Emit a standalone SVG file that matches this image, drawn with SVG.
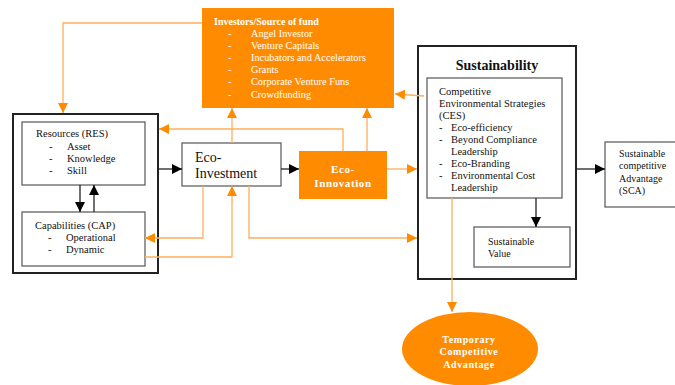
<svg xmlns="http://www.w3.org/2000/svg" width="675" height="385" viewBox="0 0 675 385">
<defs>
<marker id="ao" viewBox="0 0 10 10" refX="10" refY="5" markerWidth="10" markerHeight="10" markerUnits="userSpaceOnUse" orient="auto"><path d="M0,0 L10,5 L0,10 Z" fill="#FF8C00"/></marker>
<marker id="ab" viewBox="0 0 10 10" refX="10" refY="5" markerWidth="10" markerHeight="10" markerUnits="userSpaceOnUse" orient="auto"><path d="M0,0 L10,5 L0,10 Z" fill="#000"/></marker>
</defs>
<style>
text{font-family:"Liberation Serif","Times New Roman",serif;fill:#111}
.s{font-size:10px}
.m{font-size:10.5px}
.i{font-size:10.3px;fill:#fff}
.w{fill:#fff;font-weight:bold}
.box{fill:#fff;stroke:#555;stroke-width:1.2}
.thick{fill:#fff;stroke:#222;stroke-width:2}
.or{fill:#FF8C00}
.co{fill:none;stroke:#FFAE5C;stroke-width:1.3}
.cb{fill:none;stroke:#222;stroke-width:1.3}
</style>
<rect width="675" height="385" fill="#fff"/>

<g id="left-group">
<rect class="thick" x="13" y="114" width="145" height="159"/>
</g>
<g id="resources">
<rect class="box" x="22" y="122" width="123" height="63"/>
<text class="m" x="36" y="137">Resources (RES)</text>
<text class="m" x="49" y="150">-</text><text class="m" x="67" y="150">Asset</text>
<text class="m" x="49" y="162">-</text><text class="m" x="67" y="162">Knowledge</text>
<text class="m" x="49" y="174">-</text><text class="m" x="67" y="174">Skill</text>
</g>
<g id="capabilities">
<rect class="box" x="22" y="212" width="123" height="54"/>
<text class="m" x="35" y="229">Capabilities (CAP)</text>
<text class="m" x="48" y="241">-</text><text class="m" x="66" y="241">Operational</text>
<text class="m" x="48" y="253">-</text><text class="m" x="66" y="253">Dynamic</text>
</g>

<g id="investors">
<rect class="or" x="202" y="8" width="192" height="100"/>
<text class="w" x="214" y="25" font-size="10">Investors/Source of fund</text>
<text class="i" x="228" y="37">-</text><text class="i" x="251" y="37">Angel Investor</text>
<text class="i" x="228" y="49">-</text><text class="i" x="251" y="49">Venture Capitals</text>
<text class="i" x="228" y="61">-</text><text class="i" x="251" y="61">Incubators and Accelerators</text>
<text class="i" x="228" y="73">-</text><text class="i" x="251" y="73">Grants</text>
<text class="i" x="228" y="85">-</text><text class="i" x="251" y="85">Corporate Venture Funs</text>
<text class="i" x="228" y="98">-</text><text class="i" x="251" y="98">Crowdfunding</text>
</g>

<g id="eco-investment">
<rect class="box" x="182" y="143" width="99" height="43"/>
<text x="195" y="162" font-size="14">Eco-</text>
<text x="195" y="178" font-size="14">Investment</text>
</g>

<g id="eco-innovation">
<rect class="or" x="299" y="151" width="88" height="48"/>
<text class="w" x="343" y="173" font-size="11" text-anchor="middle" letter-spacing="0.6">Eco-</text>
<text class="w" x="343" y="187" font-size="11" text-anchor="middle" letter-spacing="0.6">Innovation</text>
</g>

<g id="sustainability">
<rect class="thick" x="418" y="46" width="158" height="233"/>
<text x="497" y="70" font-size="14" font-weight="bold" text-anchor="middle">Sustainability</text>
</g>
<g id="ces">
<rect class="box" x="427" y="78" width="135" height="120"/>
<text class="m" x="439" y="95">Competitive</text>
<text class="m" x="439" y="107">Environmental Strategies</text>
<text class="m" x="439" y="119">(CES)</text>
<text class="m" x="439" y="131">-</text><text class="m" x="451" y="131">Eco-efficiency</text>
<text class="m" x="439" y="143">-</text><text class="m" x="451" y="143">Beyond Compliance</text>
<text class="m" x="451" y="155">Leadership</text>
<text class="m" x="439" y="167">-</text><text class="m" x="451" y="167">Eco-Branding</text>
<text class="m" x="439" y="179">-</text><text class="m" x="451" y="179">Environmental Cost</text>
<svg x="427" y="78" width="135" height="119" overflow="hidden"><text class="m" x="24" y="113">Leadership</text></svg>
</g>
<g id="sustainable-value">
<rect class="box" x="474" y="227" width="96" height="40"/>
<text class="s" x="488" y="245">Sustainable</text>
<text class="s" x="488" y="257">Value</text>
</g>

<g id="sca">
<rect class="box" x="605" y="142" width="80" height="65"/>
<text class="s" x="619" y="157">Sustainable</text>
<text class="s" x="619" y="169">competitive</text>
<text class="s" x="619" y="182">Advantage</text>
<text class="s" x="619" y="194">(SCA)</text>
</g>

<g id="temporary">
<ellipse class="or" cx="470" cy="349" rx="68" ry="37"/>
<text class="w" x="469" y="343" font-size="10" text-anchor="middle" letter-spacing="0.6">Temporary</text>
<text class="w" x="469" y="355" font-size="10" text-anchor="middle" letter-spacing="0.6">Competitive</text>
<text class="w" x="469" y="368" font-size="10" text-anchor="middle" letter-spacing="0.6">Advantage</text>
</g>

<g id="connectors">
<path class="co" d="M202,23 H63 V113" marker-end="url(#ao)"/>
<path class="co" d="M232,143 V108" marker-end="url(#ao)"/>
<path class="co" d="M367,151 V108" marker-end="url(#ao)"/>
<path class="co" d="M343,151 V129 H159" marker-end="url(#ao)"/>
<path class="co" d="M424,96 L395,94" marker-end="url(#ao)"/>
<path class="co" d="M387,169 H417" marker-end="url(#ao)"/>
<path class="co" d="M249,186 V238 H417" marker-end="url(#ao)"/>
<path class="co" d="M203,186 V238 H145" marker-end="url(#ao)"/>
<path class="co" d="M145,257 H232 V186" marker-end="url(#ao)"/>
<path class="co" d="M452,198 V312" marker-end="url(#ao)"/>
<path class="cb" d="M80,185 V212" marker-end="url(#ab)"/>
<path class="cb" d="M94,212 V185" marker-end="url(#ab)"/>
<path class="cb" d="M158,169 H182" marker-end="url(#ab)"/>
<path class="cb" d="M281,169 H299" marker-end="url(#ab)"/>
<path class="cb" d="M536,198 V227" marker-end="url(#ab)"/>
<path class="cb" d="M576,169 H605" marker-end="url(#ab)"/>
</g>
</svg>
